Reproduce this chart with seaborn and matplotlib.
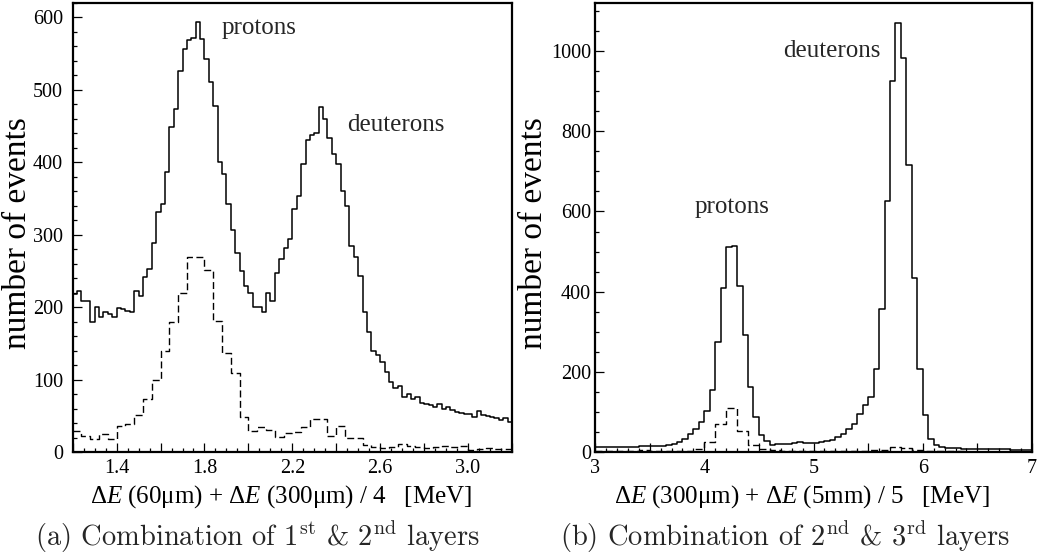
import numpy as np
import pandas as pd
import matplotlib
matplotlib.use("Agg")
import matplotlib.pyplot as plt
import seaborn as sns
from matplotlib.ticker import MultipleLocator, FuncFormatter

# ---------------- data (counts per bin) ----------------
# left: dE(60um)+dE(300um)/4, 1.20-3.20 MeV, solid 0.02 bins, dashed 0.04 bins
left_range = (1.2, 3.2)
left_solid = [
    218, 222, 208, 208, 180, 200, 186, 193, 191, 187,
    199, 197, 195, 194, 223, 215, 242, 253, 289, 331,
    343, 387, 448, 474, 526, 556, 568, 572, 593, 570,
    542, 510, 477, 400, 384, 343, 306, 275, 250, 230,
    220, 201, 200, 194, 219, 208, 247, 267, 282, 294,
    336, 354, 398, 430, 437, 440, 476, 460, 434, 411,
    398, 360, 340, 284, 269, 243, 194, 166, 139, 134,
    125, 111, 97, 89, 91, 76, 81, 73, 76, 68,
    67, 65, 63, 66, 60, 63, 58, 56, 54, 53,
    53, 49, 57, 51, 50, 49, 47, 45, 47, 42,
]
left_dashed = [
    30, 23, 19, 25, 19, 36, 39, 52, 73, 100,
    140, 180, 220, 269, 269, 251, 181, 137, 109, 49,
    30, 35, 31, 21, 27, 28, 35, 46, 46, 23,
    36, 20, 20, 10, 7, 6, 7, 11, 9, 7,
    6, 7, 8, 7, 9, 3, 4, 6, 5, 4,
]
# right: dE(300um)+dE(5mm)/5, 3-7 MeV, solid 0.05 bins, dashed 0.1 bins
right_range = (3.0, 7.0)
right_solid = [
    12, 13, 13, 12, 13, 13, 13, 13, 16, 15,
    15, 15, 16, 17, 20, 25, 33, 46, 58, 75,
    102, 156, 275, 410, 512, 514, 415, 292, 162, 89,
    42, 27, 19, 20, 21, 20, 22, 25, 23, 22,
    23, 25, 27, 31, 37, 46, 58, 71, 96, 117,
    137, 208, 358, 625, 925, 1069, 983, 715, 433, 208,
    92, 33, 17, 12, 11, 10, 10, 9, 9, 9,
    8, 8, 8, 7, 7, 7, 6, 6, 6, 5,
]
right_dashed = [
    4, 4, 3, 4, 5, 3, 3, 3, 3, 8,
    25, 71, 111, 52, 19, 8, 5, 4, 3, 3,
    3, 3, 3, 3, 4, 5, 6, 12, 10, 6,
    3, 2, 2, 2, 1, 1, 1, 1, 1, 1,
]

left_xlabel = r"$\Delta E$ (60μm) + $\Delta E$ (300μm) / 4   [MeV]"
right_xlabel = r"$\Delta E$ (300μm) + $\Delta E$ (5mm) / 5   [MeV]"
ylabel = "number of events"
left_caption = r"(a) Combination of 1$^{\rm st}$ & 2$^{\rm nd}$ layers"
right_caption = r"(b) Combination of 2$^{\rm nd}$ & 3$^{\rm rd}$ layers"

# ---------------- style ----------------
sns.set_style("white")
plt.rcParams["font.family"] = ["Liberation Serif", "DejaVu Serif"]
plt.rcParams["mathtext.fontset"] = "custom"
plt.rcParams["mathtext.rm"] = "Liberation Serif"
plt.rcParams["mathtext.it"] = "Liberation Serif:italic"
plt.rcParams["mathtext.bf"] = "Liberation Serif:bold"

fig = plt.figure(figsize=(10.37, 5.54), dpi=100)
axL = fig.add_axes([0.0701, 0.1836, 0.4236, 0.8115])
axR = fig.add_axes([0.5738, 0.1836, 0.4214, 0.8115])


def draw_hist(ax, counts, rng, **kw):
    edges = np.linspace(rng[0], rng[1], len(counts) + 1)
    df = pd.DataFrame({"center": 0.5 * (edges[:-1] + edges[1:]),
                       "count": np.asarray(counts, dtype=float)})
    sns.histplot(data=df, x="center", weights="count", bins=list(edges),
                 element="step", fill=False, color="black", ax=ax, **kw)


draw_hist(axL, left_solid, left_range, linewidth=1.1)
draw_hist(axL, left_dashed, left_range, linewidth=1.0, linestyle=(0, (5, 2.5)))
draw_hist(axR, right_solid, right_range, linewidth=1.1)
draw_hist(axR, right_dashed, right_range, linewidth=1.0, linestyle=(0, (5, 2.5)))


def style_axes(ax, xlim, ylim, xmaj, xmin, ymaj, ymin, xfmt, ylab_x, ypad):
    ax.set_xlim(*xlim)
    ax.set_ylim(*ylim)
    for s in ax.spines.values():
        s.set_linewidth(1.6)
        s.set_color("black")
    ax.xaxis.set_major_locator(MultipleLocator(xmaj))
    ax.xaxis.set_minor_locator(MultipleLocator(xmin))
    ax.yaxis.set_major_locator(MultipleLocator(ymaj))
    ax.yaxis.set_minor_locator(MultipleLocator(ymin))
    ax.xaxis.set_major_formatter(FuncFormatter(xfmt))
    ax.yaxis.set_major_formatter(FuncFormatter(lambda v, p: f"{v:.0f}"))
    ax.tick_params(axis="both", which="both", direction="in",
                   bottom=True, left=True, top=False, right=False,
                   color="black", width=0.9, labelsize=14.5, labelcolor="black")
    ax.tick_params(axis="both", which="major", length=6.5)
    ax.tick_params(axis="both", which="minor", length=3.2)
    ax.tick_params(axis="x", which="major", pad=5)
    ax.tick_params(axis="y", which="major", pad=ypad)
    ax.set_ylabel(ylabel, fontsize=24, va="center", color="black")
    ax.yaxis.set_label_coords(ylab_x, 0.488)


def fmt_left(v, p):
    k = (v - 1.4) / 0.4
    if abs(k - round(k)) < 1e-6 and 1.35 < v < 3.05:
        return f"{v:.1f}"
    return ""


def fmt_right(v, p):
    if abs(v - round(v)) < 1e-6:
        return f"{v:.0f}"
    return ""


style_axes(axL, left_range, (0, 620), 0.2, 0.05, 100, 20, fmt_left, -0.126, 7)
style_axes(axR, right_range, (0, 1120), 0.5, 0.1, 200, 50, fmt_right, -0.141, 3)

for ax, lab in ((axL, left_xlabel), (axR, right_xlabel)):
    ax.set_xlabel(lab, fontsize=18, color="black")
    ax.xaxis.set_label_coords(0.474, -0.068)

# peak labels
axL.text(1.877, 585, "protons", fontsize=18, ha="left", va="center")
axL.text(2.451, 451, "deuterons", fontsize=18, ha="left", va="center")
axR.text(3.915, 610, "protons", fontsize=18, ha="left", va="center")
axR.text(4.718, 1000, "deuterons", fontsize=18, ha="left", va="center")

# captions (Computer Modern, like the LaTeX document)
fig.text(0.248, 0.015, left_caption, fontsize=20.5, ha="center", va="baseline",
         family="cmr10", math_fontfamily="cm")
fig.text(0.757, 0.015, right_caption, fontsize=20.5, ha="center", va="baseline",
         family="cmr10", math_fontfamily="cm")

fig.savefig("out.png", dpi=100)
